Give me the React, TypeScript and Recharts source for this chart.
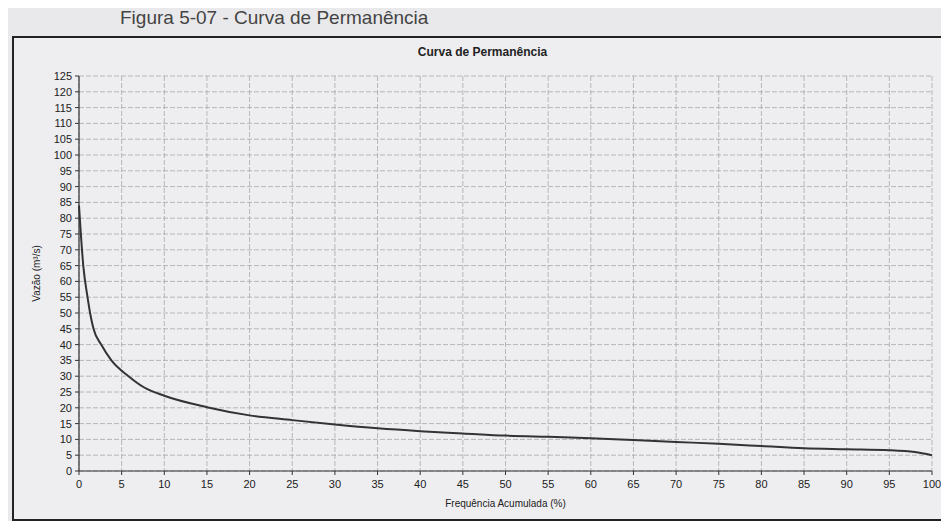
import { LineChart, Line, XAxis, YAxis, CartesianGrid, Label } from "recharts";

const frequencia = [0, 0.5, 1, 1.3, 1.7, 2.6, 3.8, 5.8, 7.6, 10, 15, 20, 25, 30, 35, 40, 45, 50, 55, 60, 65, 70, 75, 80, 85, 90, 95, 98, 100];
const vazao = [84, 65, 55, 50, 45, 40, 35, 30, 26.5, 23.8, 20.2, 17.6, 16.1, 14.7, 13.5, 12.6, 11.9, 11.2, 10.8, 10.4, 9.8, 9.2, 8.6, 7.9, 7.2, 6.9, 6.6, 6.0, 5.0];

const xTicks = [0, 5, 10, 15, 20, 25, 30, 35, 40, 45, 50, 55, 60, 65, 70, 75, 80, 85, 90, 95, 100];
const yTicks = [0, 5, 10, 15, 20, 25, 30, 35, 40, 45, 50, 55, 60, 65, 70, 75, 80, 85, 90, 95, 100, 105, 110, 115, 120, 125];

const data = frequencia.map((f, i) => ({ freq: f, vazao: vazao[i] }));

const font = "Arial, 'Liberation Sans', sans-serif";

export default function App() {
  return (
    <div
      style={{
        position: "relative",
        width: 949,
        height: 529,
        margin: -8,
        background: "#e9e9eb",
        overflow: "hidden",
        fontFamily: font,
      }}
    >
      <div
        style={{
          position: "absolute",
          left: 120,
          top: 7,
          fontSize: 19,
          lineHeight: "21px",
          color: "#444",
          whiteSpace: "nowrap",
        }}
      >
        Figura 5-07 - Curva de Permanência
      </div>
      <div
        style={{
          position: "absolute",
          left: 12,
          top: 36,
          width: 931,
          height: 481,
          border: "2px solid #222",
          background: "#eeeef0",
        }}
      />
      <div
        style={{
          position: "absolute",
          left: 0,
          width: 949,
          top: 45,
          textAlign: "center",
          fontSize: 12,
          fontWeight: "bold",
          color: "#222",
          paddingLeft: 8,
        }}
      >
        Curva de Permanência
      </div>
      <div style={{ position: "absolute", left: 0, top: 0 }}>
        <LineChart
          width={949}
          height={529}
          data={data}
          margin={{ top: 76, right: 17, bottom: 28, left: 0 }}
        >
          <CartesianGrid stroke="#a8a8aa" strokeDasharray="5 2" strokeWidth={0.8} />
          <XAxis
            dataKey="freq"
            type="number"
            domain={[0, 100]}
            ticks={xTicks}
            height={30}
            tick={{ fill: "#222", fontSize: 11, fontFamily: font }}
            tickLine={{ stroke: "#333" }}
            axisLine={{ stroke: "#333", strokeWidth: 1.2 }}
            tickSize={4}
            tickMargin={5}
          >
            <Label
              value="Frequência Acumulada (%)"
              position="insideBottom"
              offset={-6}
              style={{ fill: "#222", fontSize: 10, fontFamily: font }}
            />
          </XAxis>
          <YAxis
            type="number"
            domain={[0, 125]}
            ticks={yTicks}
            width={79}
            interval={0}
            tick={{ fill: "#222", fontSize: 11, fontFamily: font }}
            tickLine={{ stroke: "#333" }}
            axisLine={{ stroke: "#333", strokeWidth: 1.2 }}
            tickSize={4}
            tickMargin={3}
          >
            <Label
              value="Vazão (m³/s)"
              angle={-90}
              position="insideLeft"
              offset={36}
              style={{ fill: "#222", fontSize: 10, fontFamily: font, textAnchor: "middle" }}
            />
          </YAxis>
          <Line
            type="monotone"
            dataKey="vazao"
            stroke="#333"
            strokeWidth={2}
            dot={false}
            isAnimationActive={false}
          />
        </LineChart>
      </div>
    </div>
  );
}
